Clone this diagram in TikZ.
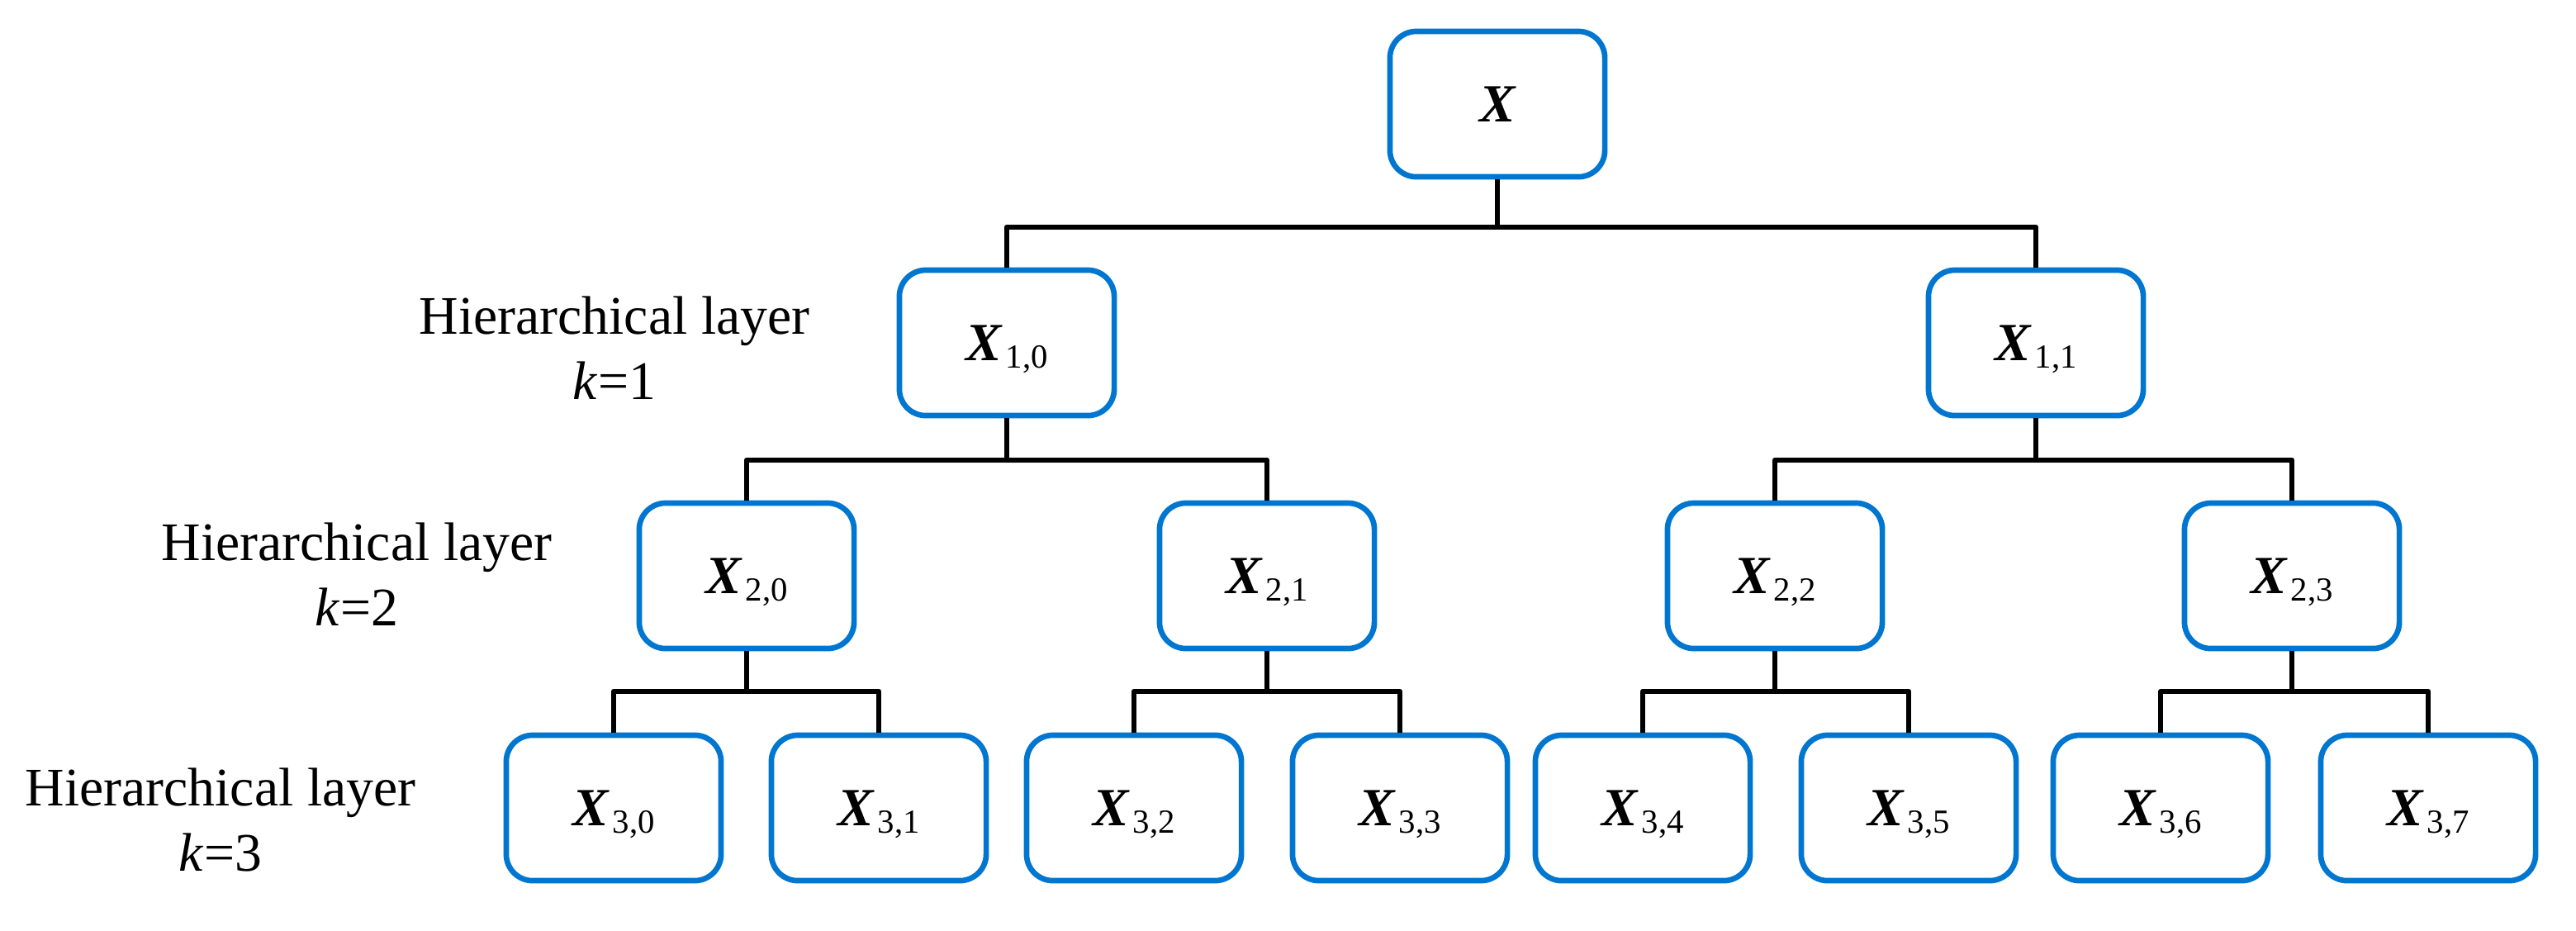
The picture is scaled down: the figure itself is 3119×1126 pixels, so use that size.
\documentclass[tikz,border=0pt]{standalone}
\usepackage{fontspec}
\setmainfont{Liberation Serif}
\definecolor{boxblue}{RGB}{0,118,208}
\newcommand{\subX}[1]{{\bfseries\itshape X}\kern0.08em\raisebox{-2.6pt}[0pt][0pt]{\fontsize{11.6}{12}\selectfont #1}}
\begin{document}
\begin{tikzpicture}[x=0.01cm,y=-0.01cm,
  treebox/.style={draw=boxblue, line width=1.9pt, rounded corners=0.32cm,
    minimum width=2.6cm, minimum height=1.76cm, inner sep=0pt, fill=white,
    font=\fontsize{18.5}{22}\selectfont},
  conn/.style={draw=black, line width=1.9pt, line join=round},
  lbl/.style={font=\fontsize{18.7}{22}\selectfont, inner sep=0pt, anchor=base}]
\useasboundingbox (0,0) rectangle (3119,1126);
% boxes
\node[treebox] (X) at (1813,126) {{\bfseries\itshape X}};
\node[treebox] (X10) at (1219,415) {\subX{1,0}};
\node[treebox] (X11) at (2465,415) {\subX{1,1}};
\node[treebox] (X20) at (904,697) {\subX{2,0}};
\node[treebox] (X21) at (1534,697) {\subX{2,1}};
\node[treebox] (X22) at (2149,697) {\subX{2,2}};
\node[treebox] (X23) at (2775,697) {\subX{2,3}};
\node[treebox] (X30) at (743,978) {\subX{3,0}};
\node[treebox] (X31) at (1064,978) {\subX{3,1}};
\node[treebox] (X32) at (1373,978) {\subX{3,2}};
\node[treebox] (X33) at (1695,978) {\subX{3,3}};
\node[treebox] (X34) at (1989,978) {\subX{3,4}};
\node[treebox] (X35) at (2311,978) {\subX{3,5}};
\node[treebox] (X36) at (2616,978) {\subX{3,6}};
\node[treebox] (X37) at (2940,978) {\subX{3,7}};
% junctions
\coordinate (j0) at (1813,275);
\coordinate (j10) at (1219,557);
\coordinate (j11) at (2465,557);
\coordinate (j20) at (904,837);
\coordinate (j21) at (1534,837);
\coordinate (j22) at (2149,837);
\coordinate (j23) at (2775,837);
% connectors
\draw[conn] (X.south) -- (j0);
\draw[conn] (X10.north) |- (j0) -| (X11.north);
\draw[conn] (X10.south) -- (j10);
\draw[conn] (X20.north) |- (j10) -| (X21.north);
\draw[conn] (X11.south) -- (j11);
\draw[conn] (X22.north) |- (j11) -| (X23.north);
\draw[conn] (X20.south) -- (j20);
\draw[conn] (X30.north) |- (j20) -| (X31.north);
\draw[conn] (X21.south) -- (j21);
\draw[conn] (X32.north) |- (j21) -| (X33.north);
\draw[conn] (X22.south) -- (j22);
\draw[conn] (X34.north) |- (j22) -| (X35.north);
\draw[conn] (X23.south) -- (j23);
\draw[conn] (X36.north) |- (j23) -| (X37.north);
% layer labels
\node[lbl] (L1a) at (744,404) {Hierarchical layer};
\node[lbl] (L1b) at (744,483) {\textit{k}=1};
\node[lbl] (L2a) at (432,678) {Hierarchical layer};
\node[lbl] (L2b) at (432,757) {\textit{k}=2};
\node[lbl] (L3a) at (267,975) {Hierarchical layer};
\node[lbl] (L3b) at (267,1054) {\textit{k}=3};
\end{tikzpicture}
\end{document}
